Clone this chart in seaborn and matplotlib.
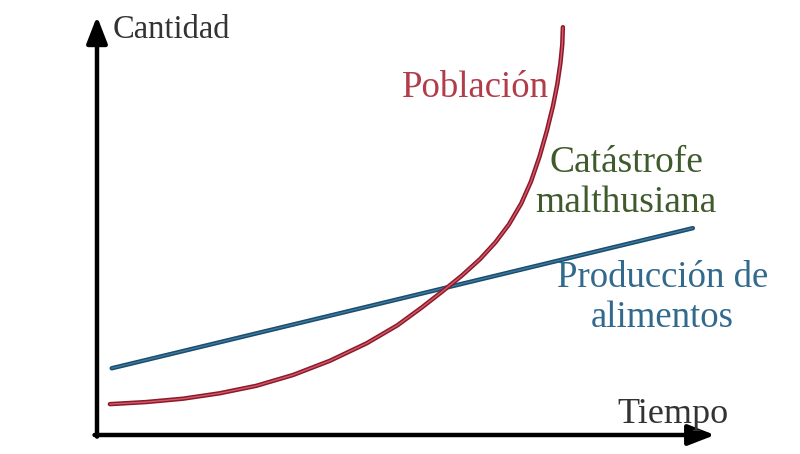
import matplotlib
matplotlib.use("Agg")
import matplotlib.pyplot as plt
import matplotlib.patheffects as pe
import seaborn as sns
import pandas as pd

# ---- data (arbitrary units 0..10) ----
pop_t = [0.21, 0.80, 1.40, 2.00, 2.60, 3.20, 3.80, 4.40, 4.90, 5.30, 5.64,
         5.95, 6.25, 6.50, 6.72, 6.92, 7.08, 7.22, 7.34, 7.44, 7.51, 7.56,
         7.59, 7.60]
pop_q = [0.74, 0.79, 0.87, 1.00, 1.18, 1.44, 1.78, 2.20, 2.63, 3.06, 3.45,
         3.82, 4.22, 4.62, 5.05, 5.55, 6.08, 6.68, 7.30, 7.90, 8.42, 8.92,
         9.36, 9.78]
food_t = [0.24, 9.72]
food_q = [1.60, 4.96]

label_y = "Cantidad"
label_x = "Tiempo"
label_pop = "Población"
label_cat = "Catástrofe\nmalthusiana"
label_food = "Producción de\nalimentos"

sns.set_theme(style="white")
plt.rcParams["font.family"] = ["Liberation Serif", "DejaVu Serif"]

fig = plt.figure(figsize=(8, 4.54), dpi=100)
ax = fig.add_axes([97 / 800, 19 / 454, 613 / 800, 417 / 454])
ax.set_xlim(0, 10)
ax.set_ylim(0, 10)
ax.axis("off")

pop_df = pd.DataFrame({"t": pop_t, "q": pop_q})
food_df = pd.DataFrame({"t": food_t, "q": food_q})

sns.lineplot(data=food_df, x="t", y="q", ax=ax, color="#3a7aa3", lw=1.0,
             sort=False, estimator=None,
             path_effects=[pe.Stroke(linewidth=3.2, foreground="#1c4d6c"), pe.Normal()])
sns.lineplot(data=pop_df, x="t", y="q", ax=ax, color="#d45a68", lw=1.0,
             sort=False, estimator=None, solid_joinstyle="round",
             path_effects=[pe.Stroke(linewidth=3.2, foreground="#8c1a2c",
                                     joinstyle="round"), pe.Normal()])

# axes arrows
arrow_kw = dict(arrowstyle="-|>,head_length=0.9,head_width=0.35", lw=3.2,
                color="black", shrinkA=0, shrinkB=0, mutation_scale=18)
ax.annotate("", xy=(1.008, 0.0), xytext=(-0.004, 0.0), xycoords="axes fraction",
            textcoords="axes fraction", arrowprops=arrow_kw, annotation_clip=False)
ax.annotate("", xy=(0.0, 1.004), xytext=(0.0, -0.004), xycoords="axes fraction",
            textcoords="axes fraction", arrowprops=arrow_kw, annotation_clip=False)

# labels
ax.text(0.26, 9.52, label_y, ha="left", va="baseline", fontsize=23.5, color="#333333")
ax.text(9.40, 0.29, label_x, ha="center", va="baseline", fontsize=26, color="#333333")
ax.text(6.17, 8.11, label_pop, ha="center", va="baseline", fontsize=26.5, color="#b13d4b")
ax.text(8.63, 5.35, label_cat, ha="center", va="baseline", fontsize=27,
        color="#3f5b2c", linespacing=1.2)
ax.text(9.22, 2.59, label_food, ha="center", va="baseline", fontsize=26.5,
        color="#326a8d", linespacing=1.2)

fig.savefig("out.png", dpi=100)
